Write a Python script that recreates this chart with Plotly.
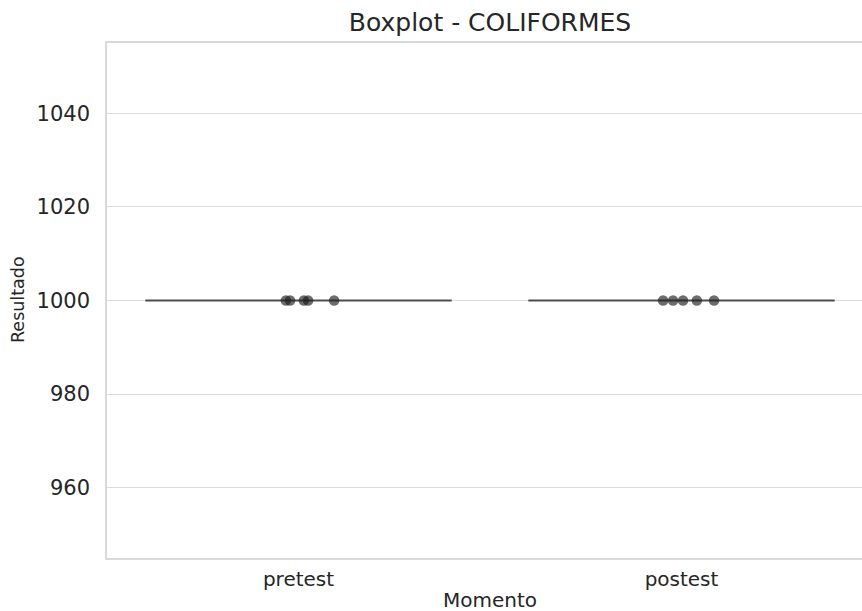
import plotly.graph_objects as go

categories = ["pretest", "postest"]
pretest_values = [1000, 1000, 1000, 1000, 1000]
postest_values = [1000, 1000, 1000, 1000, 1000]
pretest_jitter = [-0.033, -0.022, 0.014, 0.025, 0.093]
postest_jitter = [-0.048, -0.022, 0.004, 0.040, 0.085]
y_ticks = [960, 980, 1000, 1020, 1040]

FONT = "DejaVu Sans"
TXT = "#262626"

# the original figure is cropped on the right: the axes end at x=873, beyond the 862px view
W, H = 880, 611
L, R, T, B = 107, 873, 43, 558   # plot area edges in px

fig = go.Figure()

series = [pretest_values, postest_values]
jitters = [pretest_jitter, postest_jitter]

for i, (cat, vals) in enumerate(zip(categories, series)):
    fig.add_trace(go.Box(
        x=[i] * len(vals), y=vals, width=0.8,
        boxpoints=False,
        line=dict(color="#4d4d4d", width=2.2),
        fillcolor="rgba(0,0,0,0)",
        whiskerwidth=0,
        showlegend=False, hoverinfo="skip",
    ))

for i, (vals, jit) in enumerate(zip(series, jitters)):
    fig.add_trace(go.Scatter(
        x=[i + j for j in jit], y=vals, mode="markers",
        marker=dict(color="rgba(30,30,30,0.65)", size=10.5, line=dict(width=0)),
        showlegend=False,
    ))

pw, ph = R - L, B - T
fig.update_layout(
    width=W, height=H,
    margin=dict(l=L, r=W - R, t=T, b=H - B, autoexpand=False),
    paper_bgcolor="white", plot_bgcolor="white",
    font=dict(family=FONT, color=TXT),
    title=dict(text="Boxplot - COLIFORMES", x=(L + R) / 2 / W, xanchor="center",
               y=1 - 22 / H, yanchor="middle", font=dict(size=25, color=TXT)),
    annotations=[
        dict(text="Momento", xref="paper", yref="paper",
             x=0.5, y=-(600 - B) / ph,
             xanchor="center", yanchor="middle", showarrow=False,
             font=dict(size=20, color=TXT)),
        dict(text="Resultado", xref="paper", yref="paper",
             x=-(L - 18) / pw, y=(B - 300) / ph,
             xanchor="center", yanchor="middle", textangle=-90, showarrow=False,
             font=dict(size=17.5, color=TXT)),
    ],
)
fig.update_xaxes(
    range=[-0.5, 1.5], tickvals=[0, 1], ticktext=categories,
    showgrid=False, zeroline=False, automargin=False,
    showline=True, mirror=True, linecolor="#d9d9d9", linewidth=1.5,
    ticks="", ticklabelstandoff=2, tickfont=dict(size=20, color=TXT),
)
fig.update_yaxes(
    range=[945, 1055], tickvals=y_ticks,
    showgrid=True, gridcolor="#dcdcdc", gridwidth=1.2, zeroline=False, automargin=False,
    showline=True, mirror=True, linecolor="#d9d9d9", linewidth=1.5,
    ticks="", ticklabelstandoff=11, tickfont=dict(size=21, color=TXT),
)

fig.write_html("out.html", config={"displayModeBar": False},
               post_script="document.body.style.margin='0px';document.body.style.overflow='hidden';")
